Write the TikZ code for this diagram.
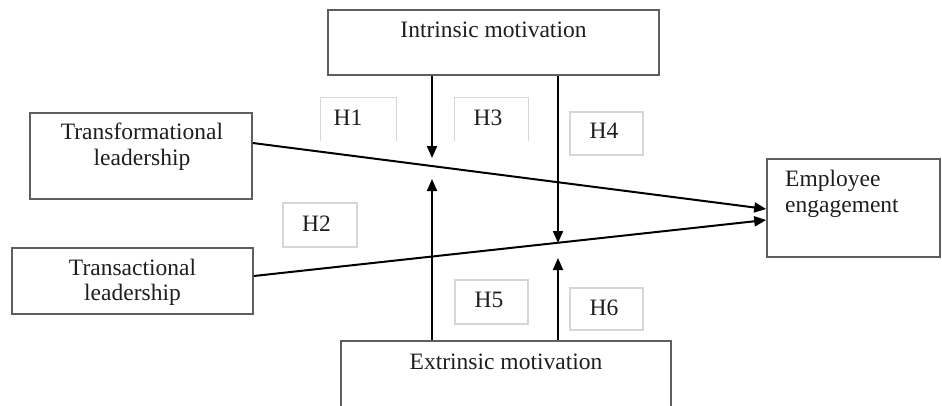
\documentclass[tikz,border=0pt]{standalone}
\usepackage{fontspec}
\setmainfont{Liberation Serif}
\usetikzlibrary{arrows.meta}
\definecolor{boxgray}{HTML}{5E5E5E}
\definecolor{hgray}{HTML}{D6D6D6}
\definecolor{txt}{HTML}{1E1E1E}
\begin{document}
\begin{tikzpicture}[x=1pt,y=-1pt,
  mainbox/.style={draw=boxgray,line width=1.6pt,rectangle,inner sep=0pt},
  hbox/.style={rectangle,inner sep=0pt},
  hline/.style={draw=hgray,line width=1.1pt},
  lbl/.style={anchor=base,inner sep=0pt,text=txt,font=\fontsize{23.5}{27}\selectfont},
  conn/.style={draw=black,line width=2pt,-{Triangle[length=12pt,width=10pt]}}]
\useasboundingbox (0,0) rectangle (942,405);
\clip (0,0) rectangle (942,405);
% main boxes
\node[mainbox,minimum width=331pt,minimum height=65pt] (intr) at (493.5,42.5) {};
\node[mainbox,minimum width=222pt,minimum height=86pt] (tf) at (141,156) {};
\node[mainbox,minimum width=241pt,minimum height=66pt] (ta) at (132.5,281) {};
\node[mainbox,minimum width=330pt,minimum height=79pt] (extr) at (506,380.5) {};
\node[mainbox,minimum width=173pt,minimum height=98pt] (emp) at (853.5,208) {};
% texts
\node[lbl] (intrt) at (493.5,37) {Intrinsic motivation};
\node[lbl] (tft1) at (142,139) {Transformational};
\node[lbl] (tft2) at (142,165) {leadership};
\node[lbl] (tat1) at (132.5,275) {Transactional};
\node[lbl] (tat2) at (132.5,300) {leadership};
\node[lbl] (extrt) at (506,369) {Extrinsic motivation};
\node[lbl,anchor=base west] (empt1) at (785,186) {Employee};
\node[lbl,anchor=base west] (empt2) at (785,212) {engagement};
% hypothesis boxes
\node[hbox,minimum width=75pt,minimum height=43pt] (h1) at (358.5,119.5) {};
\draw[hline] (h1.south west) |- (h1.north east) -- (h1.south east);
\node[lbl] (h1t) at (348,125) {H1};
\node[hbox,minimum width=73pt,minimum height=43pt] (h3) at (491.5,119.5) {};
\draw[hline] (h3.south west) |- (h3.north east) -- (h3.south east);
\node[lbl] (h3t) at (488,125) {H3};
\node[hbox,hline,minimum width=73pt,minimum height=43pt] (h4) at (606.5,133.5) {};
\node[lbl] (h4t) at (604,138) {H4};
\node[hbox,hline,minimum width=74pt,minimum height=44pt] (h2) at (320,225) {};
\node[lbl] (h2t) at (316.5,231) {H2};
\node[hbox,hline,minimum width=73pt,minimum height=44pt] (h5) at (491.5,302) {};
\node[lbl] (h5t) at (489,307) {H5};
\node[hbox,hline,minimum width=73pt,minimum height=42pt] (h6) at (606.5,309) {};
\node[lbl] (h6t) at (604,315) {H6};
% connectors
\coordinate (d1) at (432,158);
\coordinate (u1) at (432,179);
\coordinate (d2) at (558,243);
\coordinate (u2) at (558,258);
\draw[conn] (intr.south -| d1) -- (d1);
\draw[conn] (extr.north -| u1) -- (u1);
\draw[conn] (intr.south -| d2) -- (d2);
\draw[conn] (extr.north -| u2) -- (u2);
\draw[conn] ([yshift=13pt]tf.east) -- ([yshift=-1pt]emp.west);
\draw[conn] ([yshift=5pt]ta.east) -- ([yshift=-12pt]emp.west);
\end{tikzpicture}
\end{document}
